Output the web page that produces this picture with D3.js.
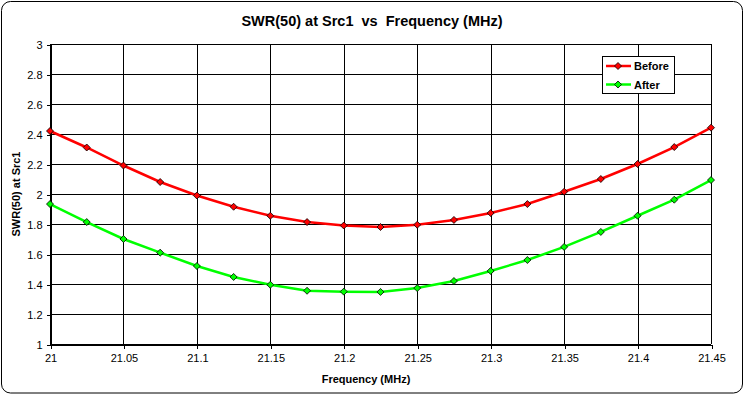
<!DOCTYPE html>
<html><head><meta charset="utf-8">
<script src="https://d3js.org/d3.v7.min.js"></script>
<style>body{margin:0;background:#fff}svg{display:block}</style>
</head><body>
<script>
const freqs = [21,21.025,21.05,21.075,21.1,21.125,21.15,21.175,21.2,21.225,21.25,21.275,21.3,21.325,21.35,21.375,21.4,21.425,21.45];
const before = [2.42,2.31,2.19,2.08,1.99,1.915,1.855,1.813,1.79,1.78,1.795,1.827,1.873,1.933,2.015,2.10,2.20,2.313,2.442];
const after = [1.933,1.813,1.70,1.609,1.52,1.447,1.395,1.355,1.349,1.347,1.373,1.42,1.487,1.56,1.647,1.747,1.855,1.962,2.093];
const xTicks = [21,21.05,21.1,21.15,21.2,21.25,21.3,21.35,21.4,21.45];
const yTicks = [1,1.2,1.4,1.6,1.8,2,2.2,2.4,2.6,2.8,3];
const seriesNames = ["Before","After"];
const seriesColors = ["#ff0000","#00ff00"];

const W=745,H=395;
const svg=d3.select("body").append("svg").attr("width",W).attr("height",H);
svg.append("rect").attr("x",1.5).attr("y",1.5).attr("width",741).attr("height",391.5)
  .attr("rx",9).attr("fill","#fff").attr("stroke","#000").attr("stroke-width",1);

const L=50,R=711,T=44,B=344;
const x=d3.scaleLinear().domain([21,21.45]).range([L,R]);
const y=d3.scaleLinear().domain([1,3]).range([B,T]);
const font="Arial, 'Liberation Sans', sans-serif";

// grid
const g=svg.append("g").attr("shape-rendering","crispEdges");
g.selectAll(".hg").data(yTicks).enter().append("line")
  .attr("x1",L).attr("x2",R).attr("y1",d=>Math.round(y(d))+0.5).attr("y2",d=>Math.round(y(d))+0.5)
  .attr("stroke","#000");
g.selectAll(".vg").data(xTicks).enter().append("line")
  .attr("y1",T).attr("y2",B).attr("x1",d=>Math.round(x(d))+0.5).attr("x2",d=>Math.round(x(d))+0.5)
  .attr("stroke","#000");

// axes
const xa=d3.axisBottom(x).tickValues(xTicks).tickSize(4).tickPadding(6).tickFormat(d=>String(+d.toFixed(2)));
const ya=d3.axisLeft(y).tickValues(yTicks).tickSize(4).tickPadding(4).tickFormat(d=>String(+d.toFixed(1)));
const gx=svg.append("g").attr("transform",`translate(0.5,${B+0.5})`).call(xa);
const gy=svg.append("g").attr("transform",`translate(${L+0.5},0.5)`).call(ya);
[gx,gy].forEach(a=>{a.select(".domain").attr("stroke","#000");a.selectAll("line").attr("stroke","#000");
  a.selectAll("text").attr("font-family",font).attr("font-size","11px").attr("fill","#000");
  a.attr("shape-rendering","crispEdges");});

// series
const data=[before,after];
const line=d3.line().x((d,i)=>x(freqs[i])).y(d=>y(d));
data.forEach((s,k)=>{
  svg.append("path").datum(s).attr("d",line).attr("fill","none").attr("stroke",seriesColors[k]).attr("stroke-width",2.5);
  svg.selectAll(".m"+k).data(s).enter().append("path")
    .attr("transform",(d,i)=>`translate(${x(freqs[i])},${y(d)})`)
    .attr("d","M0,-3.5L3.5,0L0,3.5L-3.5,0Z").attr("fill",seriesColors[k]).attr("stroke","#000").attr("stroke-width",0.8);
});

// titles
svg.append("text").attr("x",372).attr("y",25.5).attr("text-anchor","middle").attr("font-family",font)
  .attr("font-weight","bold").attr("font-size","14.5px").attr("xml:space","preserve").text("SWR(50) at Src1  vs  Frequency (MHz)");
svg.append("text").attr("x",366).attr("y",383).attr("text-anchor","middle").attr("font-family",font)
  .attr("font-weight","bold").attr("font-size","11px").text("Frequency (MHz)");
svg.append("text").attr("transform","translate(19.5,194) rotate(-90)").attr("text-anchor","middle").attr("font-family",font)
  .attr("font-weight","bold").attr("font-size","11px").text("SWR(50) at Src1");

// legend
const lg=svg.append("g");
lg.append("rect").attr("x",602.5).attr("y",56.5).attr("width",72).attr("height",37).attr("fill","#fff").attr("stroke","#000");
seriesNames.forEach((n,k)=>{
  const yy=66+k*18.5;
  lg.append("line").attr("x1",606).attr("x2",631).attr("y1",yy).attr("y2",yy).attr("stroke",seriesColors[k]).attr("stroke-width",2.5);
  lg.append("path").attr("transform",`translate(618,${yy})`).attr("d","M0,-3.5L3.5,0L0,3.5L-3.5,0Z")
    .attr("fill",seriesColors[k]).attr("stroke","#000").attr("stroke-width",0.8);
  lg.append("text").attr("x",634).attr("y",yy+4).attr("font-family",font).attr("font-weight","bold").attr("font-size","11px").text(n);
});
</script>
</body></html>
